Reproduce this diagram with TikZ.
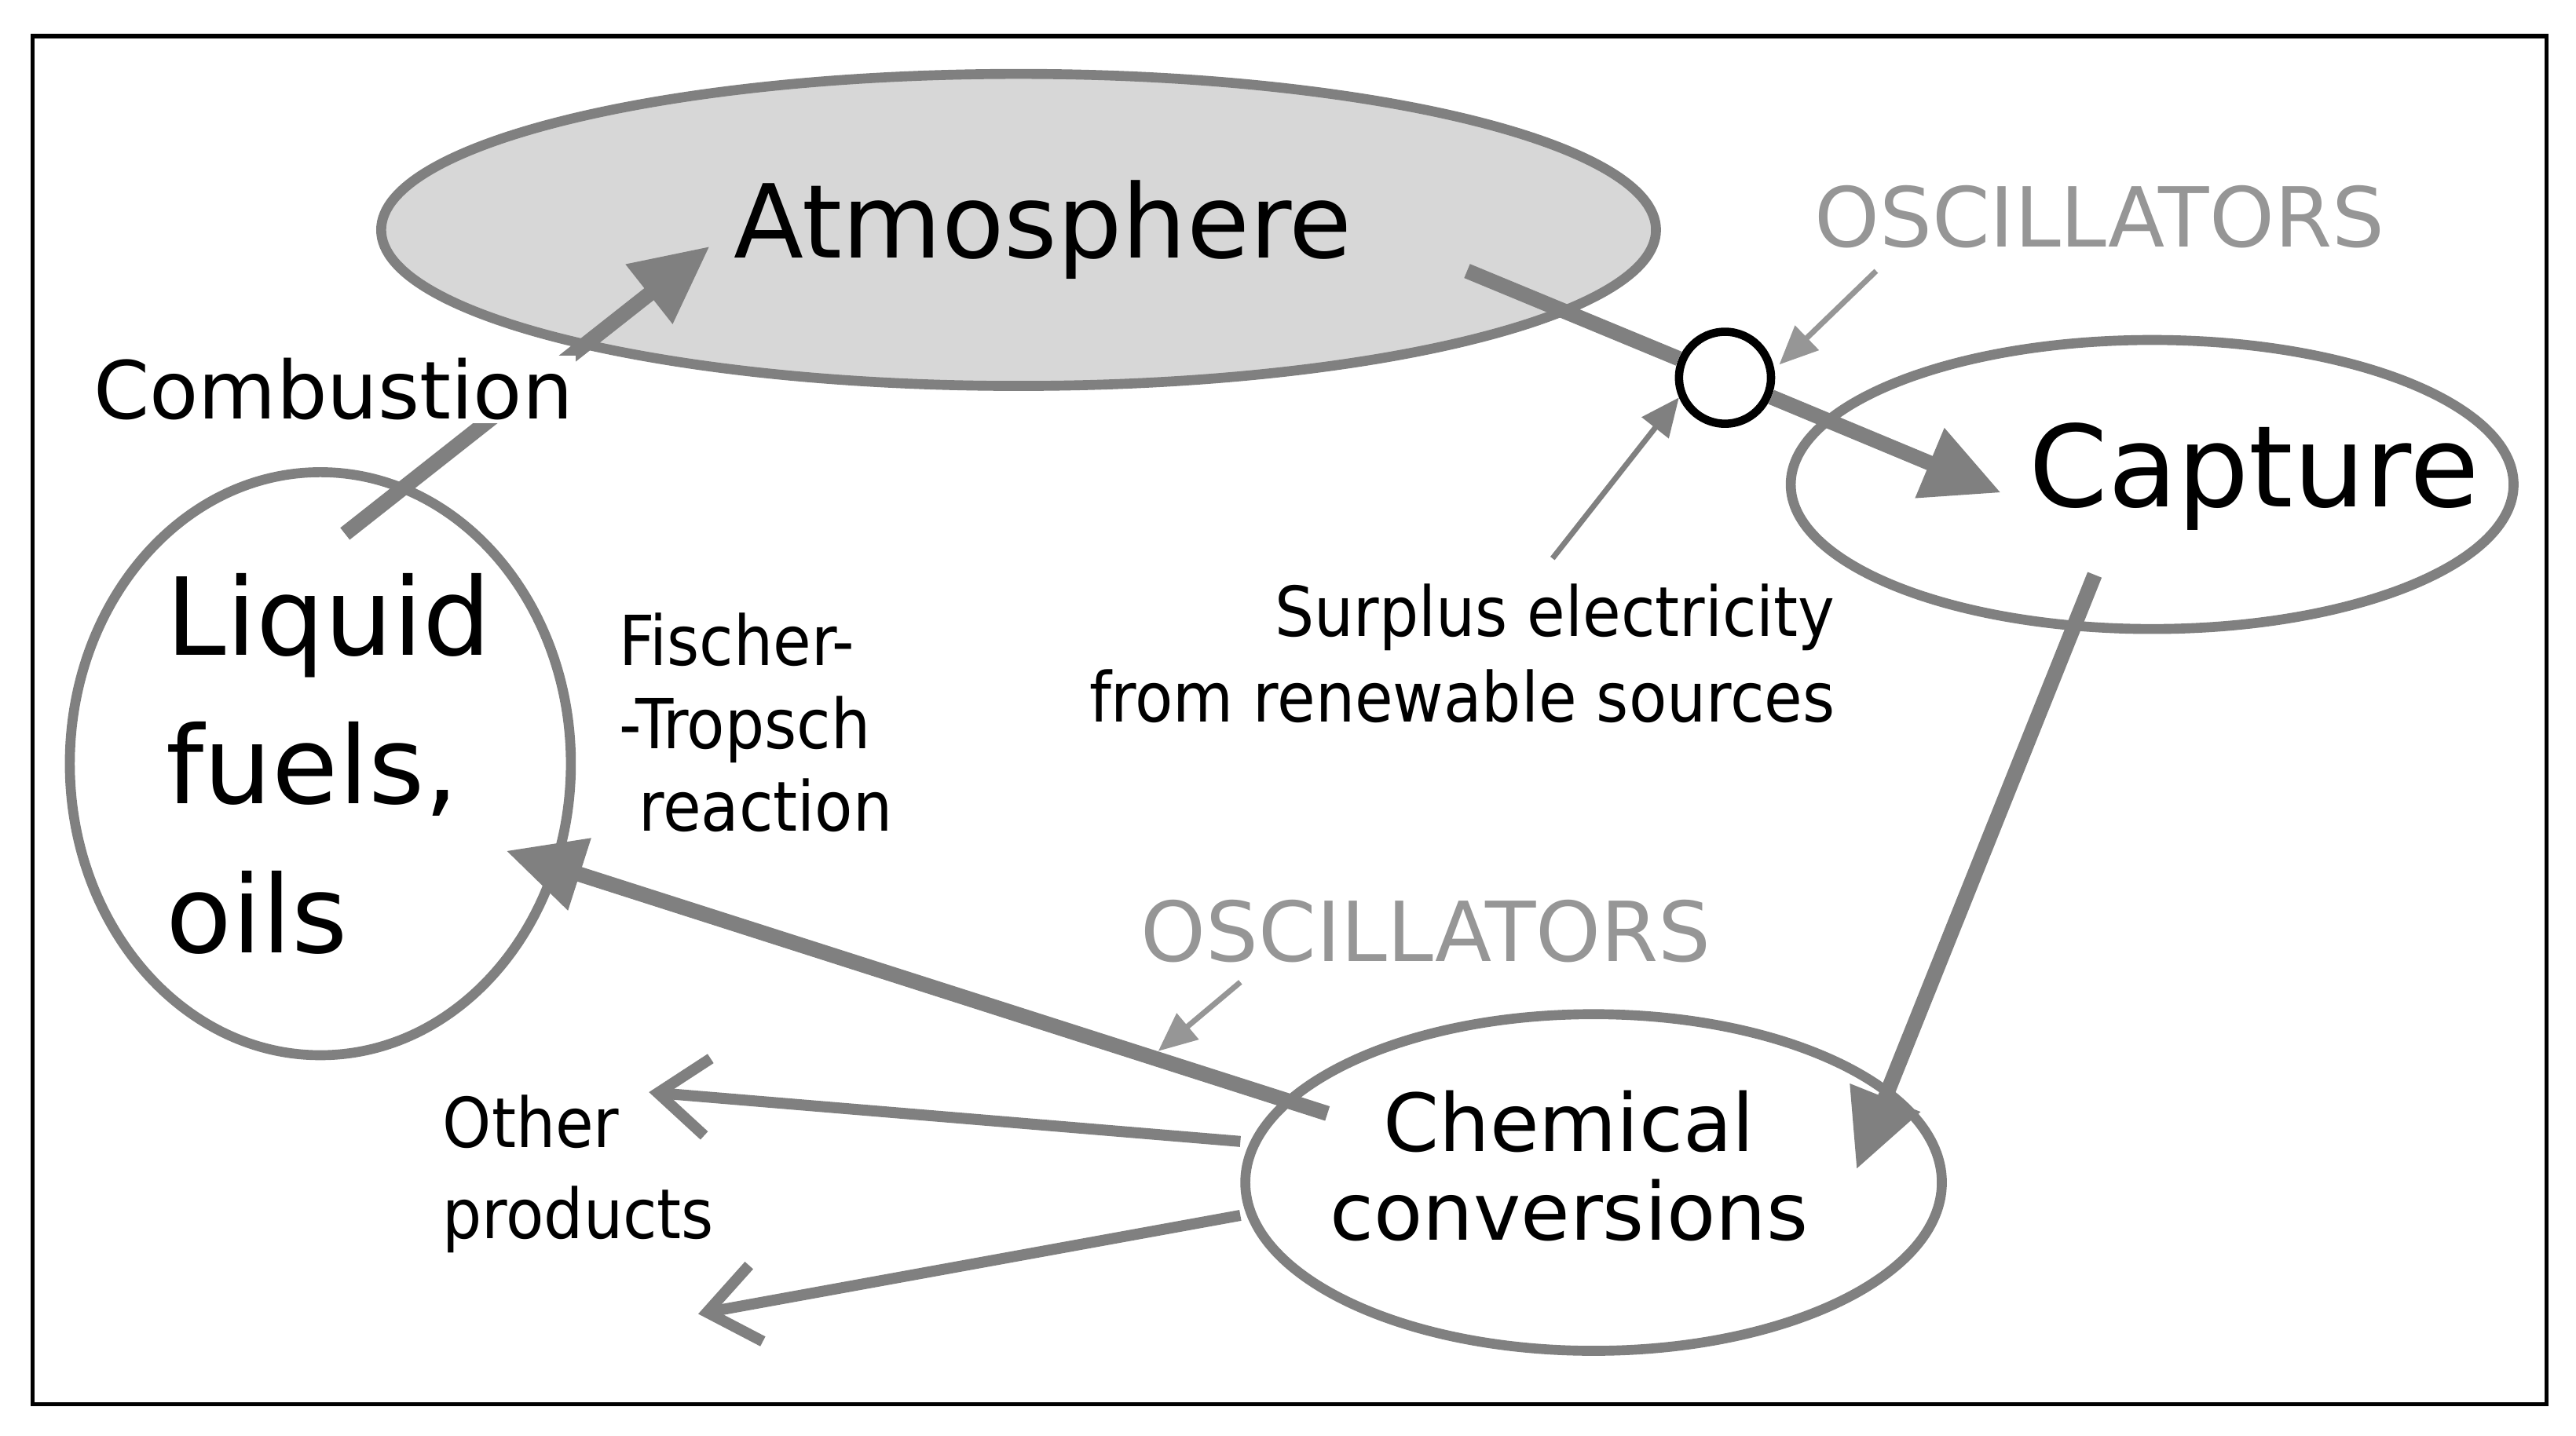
\documentclass[tikz,border=0pt]{standalone}
\usepackage{fontspec}
\setmainfont{DejaVu Sans}
\newfontfamily\cond{DejaVu Sans Condensed}
\usetikzlibrary{arrows.meta,shapes.geometric}
\definecolor{lg}{RGB}{128,128,128}
\definecolor{fillg}{RGB}{215,215,215}
\definecolor{osc}{RGB}{150,150,150}
\begin{document}
\begin{tikzpicture}[x=0.020918cm,y=-0.020918cm,
 ell/.style={draw=lg,line width=3.6pt,ellipse,inner sep=0pt},
 big/.style={-{Triangle[length=28pt,width=26pt]},draw=lg,line width=5.5pt},
 thin/.style={-{Triangle[length=14pt,width=12pt]},draw=lg,line width=2pt},
 open/.style={-{Straight Barb[length=18pt,width=28pt,line width=4pt]},draw=lg,line width=4pt},
 oscs/.style={text=osc,font=\fontsize{30}{32}\selectfont}]
\useasboundingbox (0,0) rectangle (1568,874.3);
\fill[white] (0,0) rectangle (1568,874.3);
\draw[line width=1.5pt] (20,22) rectangle (1550,855);
\node[ell,fill=fillg,minimum width={776*0.5952pt},minimum height={190*0.5952pt}] (atm) at (620,140) {};
\node[font=\fontsize{37}{40}\selectfont] (atmt) at (635,140) {Atmosphere};
\node[ell,minimum width={440*0.5952pt},minimum height={176*0.5952pt}] (cap) at (1310,295) {};
\node[font=\fontsize{41}{43}\selectfont] (capt) at (1372,290) {Capture};
\node[ell,minimum width={305*0.5952pt},minimum height={355*0.5952pt}] (liq) at (195,465) {};
\node[font=\fontsize{39}{54}\selectfont,align=left] (liqt) at (200,465) {Liquid\\fuels,\\oils};
\node[ell,minimum width={424*0.5952pt},minimum height={205*0.5952pt}] (chem) at (970,720) {};
\node[font=\fontsize{29}{32}\selectfont,align=center] (chemt) at (955,710) {Chemical\\conversions};
\coordinate (c1) at (210,325); \coordinate (c2) at (432,150);
\draw[big] (c1) -- (c2);
\node[fill=white,inner sep=1pt,font=\fontsize{29}{31}\selectfont] (comb) at (203,237) {Combustion};
\node[circle,draw=black,line width=3pt,fill=white,minimum size={56*0.5952pt},inner sep=0pt] (osc1) at (1050,230) {};
\coordinate (a1) at (893,165); \coordinate (a2) at (1218,300);
\draw[draw=lg,line width=5.5pt] (a1) -- (osc1);
\draw[big] (osc1) -- (a2);
\node[oscs] (o1) at (1278,132) {OSCILLATORS};
\coordinate (o1s) at (1142,165); \coordinate (o1e) at (1083,222);
\draw[thin,draw=osc] (o1s) -- (o1e);
\node[font=\cond\fontsize{25}{31}\selectfont,align=right] (sur) at (890,398) {Surplus electricity\\from renewable sources};
\coordinate (s1) at (945,340); \coordinate (s2) at (1022,242);
\draw[thin] (s1) -- (s2);
\coordinate (d1) at (1275,350); \coordinate (d2) at (1130,712);
\draw[big] (d1) -- (d2);
\coordinate (f1) at (808,678); \coordinate (f2) at (308,518);
\draw[big] (f1) -- (f2);
\node[font=\cond\fontsize{25}{30}\selectfont,align=left] (ft) at (460,440) {Fischer-\\-Tropsch\\\ reaction};
\node[oscs] (o2) at (868,567) {OSCILLATORS};
\coordinate (o2s) at (755,598); \coordinate (o2e) at (705,640);
\draw[thin,draw=osc] (o2s) -- (o2e);
\coordinate (p0) at (755,695); \coordinate (p1) at (395,665);
\coordinate (q0) at (755,740); \coordinate (q1) at (425,800);
\draw[open] (p0) -- (p1);
\draw[open] (q0) -- (q1);
\node[font=\cond\fontsize{25}{33}\selectfont,align=left] (op) at (352,715) {Other\\products};
\end{tikzpicture}
\end{document}
